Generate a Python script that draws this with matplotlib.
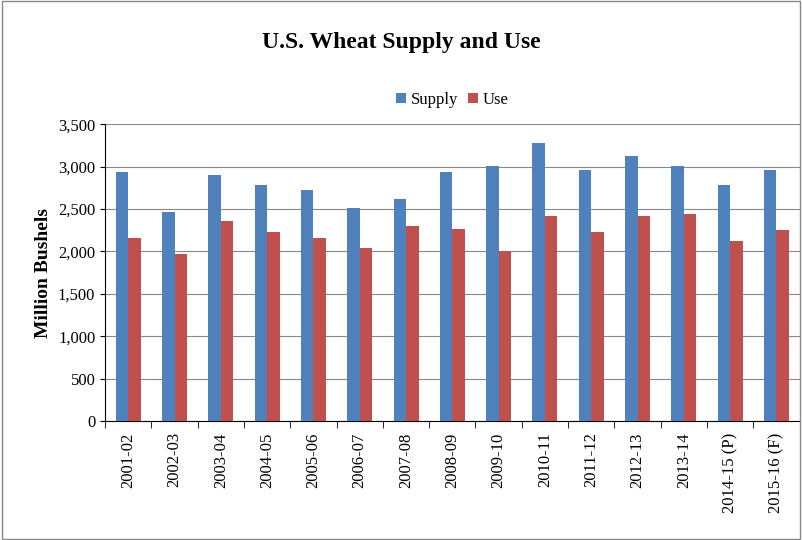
import numpy as np
import matplotlib.pyplot as plt

plt.rcParams['font.family'] = ['Liberation Serif', 'DejaVu Serif']

years = ['2001-02', '2002-03', '2003-04', '2004-05', '2005-06', '2006-07', '2007-08',
         '2008-09', '2009-10', '2010-11', '2011-12', '2012-13', '2013-14',
         '2014-15 (P)', '2015-16 (F)']
supply = [2934, 2463, 2899, 2781, 2722, 2510, 2616, 2934, 3005, 3276, 2958, 3123, 3005, 2781, 2958]
use = [2157, 1968, 2357, 2227, 2157, 2039, 2298, 2263, 2003, 2416, 2227, 2416, 2440, 2121, 2250]

fig = plt.figure(figsize=(8.02, 5.40), dpi=100)
ax = fig.add_axes([0.131, 0.22, 0.866, 0.55])

xs = np.arange(len(years))
w = 0.27
ax.bar(xs - w / 2, supply, w, color='#4F81BD', label='Supply', zorder=3)
ax.bar(xs + w / 2, use, w, color='#C0504D', label='Use', zorder=3)

ax.set_xlim(-0.5, len(years) - 0.5)
ax.set_ylim(0, 3500)
ax.set_yticks(range(0, 3501, 500))
ax.set_yticklabels([f'{v:,}' for v in range(0, 3501, 500)], fontsize=12)
ax.set_xticks(xs)
ax.set_xticklabels(years, rotation=90, fontsize=12)
ax.set_xticks(np.arange(-0.5, len(years)), minor=True)
ax.tick_params(axis='x', which='major', length=0, pad=8)
ax.tick_params(axis='x', which='minor', length=5)
ax.grid(True, axis='y', color='#888888', linewidth=0.8, zorder=0)
for s in ['top', 'right']:
    ax.spines[s].set_visible(False)
ax.set_ylabel('Million Bushels', fontsize=14, fontweight='bold')

fig.suptitle('U.S. Wheat Supply and Use', fontsize=17, fontweight='bold', y=0.94)
ax.legend(loc='upper center', bbox_to_anchor=(0.5, 1.16), ncol=2, frameon=False,
          fontsize=12, handlelength=0.6, handleheight=0.6, columnspacing=0.6, handletextpad=0.3)

fig.patches.append(plt.Rectangle((0.002, 0.002), 0.996, 0.996, transform=fig.transFigure,
                                 fill=False, edgecolor='#888888', linewidth=1))
fig.savefig('out.png', dpi=100)
